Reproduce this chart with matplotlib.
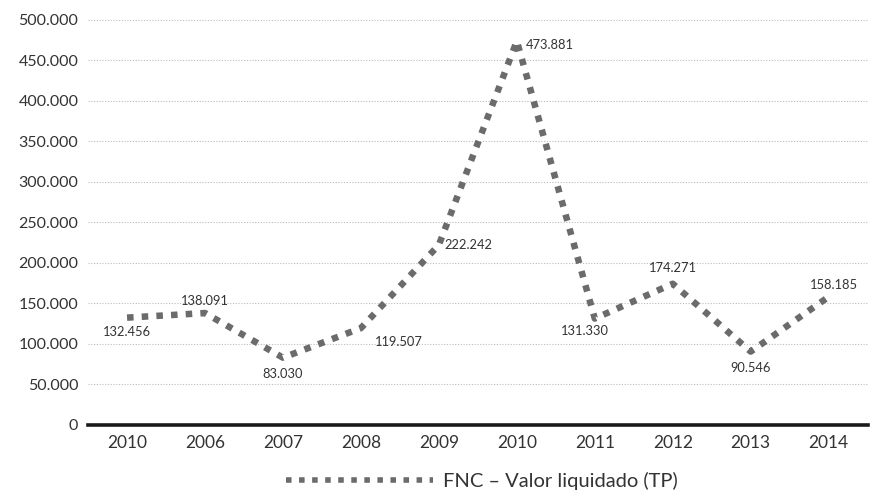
import matplotlib
matplotlib.use("Agg")
import matplotlib.pyplot as plt
from matplotlib.ticker import FuncFormatter

plt.rcParams["font.family"] = ["Lato", "DejaVu Sans"]

categories = ["2010", "2006", "2007", "2008", "2009", "2010", "2011", "2012", "2013", "2014"]
values = [132456, 138091, 83030, 119507, 222242, 473881, 131330, 174271, 90546, 158185]
series_name = "FNC – Valor liquidado (TP)"

# label placement per point: (dx px, dy px, ha, va)
label_pos = [
    (0, -8, "center", "top"),
    (0, 6, "center", "bottom"),
    (0, -10, "center", "top"),
    (14, -8, "left", "top"),
    (6, 0, "left", "center"),
    (9, -4, "left", "center"),
    (-10, -6, "center", "top"),
    (0, 10, "center", "bottom"),
    (0, -10, "center", "top"),
    (5, 6, "center", "bottom"),
]

line_color = "#6b6b6b"
text_color = "#333333"

fig = plt.figure(figsize=(8.72, 4.97), dpi=100, facecolor="white")
ax = fig.add_axes([0.101, 0.145, 0.894, 0.815])

x = list(range(len(categories)))
line, = ax.plot(x, values, color=line_color, linewidth=4.7, dash_capstyle="butt",
                solid_capstyle="butt", label=series_name)
line.set_dashes((1.0, 1.25))

for xi, v, (dx, dy, ha, va) in zip(x, values, label_pos):
    ax.annotate(f"{v:,}".replace(",", "."), (xi, v), xytext=(dx * 0.72, dy * 0.72),
                textcoords="offset points", ha=ha, va=va, fontsize=9.3, color=text_color)

ax.set_xlim(-0.5, len(categories) - 0.5)
ax.set_ylim(0, 500000)
ax.set_yticks(range(0, 500001, 50000))
ax.yaxis.set_major_formatter(FuncFormatter(lambda v, _: f"{int(v):,}".replace(",", ".")))
ax.set_xticks(x)
ax.set_xticklabels(categories)
ax.tick_params(axis="both", length=0, colors=text_color)
ax.tick_params(axis="x", pad=7, labelsize=12.5)
ax.tick_params(axis="y", pad=7, labelsize=11.5)

ax.grid(axis="y", color="#bbbbbb", linestyle=(0, (1, 1.5)), linewidth=0.8)
ax.set_axisbelow(True)
for side in ["left", "right", "top"]:
    ax.spines[side].set_visible(False)
ax.spines["bottom"].set_linewidth(2.6)
ax.spines["bottom"].set_color("#1a1a1a")

leg = fig.legend(handles=[line], loc="center", bbox_to_anchor=(0.553, 0.032), frameon=False,
                 fontsize=14.5, handlelength=7.3, handletextpad=0.5)
for t in leg.get_texts():
    t.set_color(text_color)
handle = leg.get_lines()[0]
handle.set_linewidth(4.0)
handle.set_dashes((1.0, 1.35))

fig.savefig("out.png", dpi=100)
